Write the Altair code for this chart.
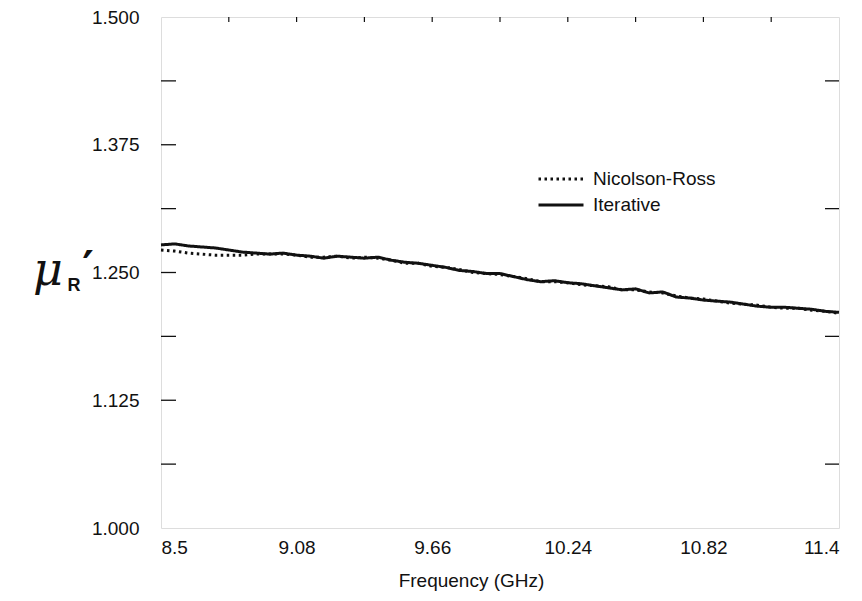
import altair as alt
import pandas as pd

freq = [8.500, 8.558, 8.616, 8.674, 8.732, 8.790, 8.848, 8.906, 8.964, 9.022,
        9.080, 9.138, 9.196, 9.254, 9.312, 9.370, 9.428, 9.486, 9.544, 9.602,
        9.660, 9.718, 9.776, 9.834, 9.892, 9.950, 10.008, 10.066, 10.124, 10.182,
        10.240, 10.298, 10.356, 10.414, 10.472, 10.530, 10.588, 10.646, 10.704, 10.762,
        10.820, 10.878, 10.936, 10.994, 11.052, 11.110, 11.168, 11.226, 11.284, 11.342,
        11.400]

iterative = [1.277, 1.278, 1.276, 1.275, 1.274, 1.272, 1.270, 1.269, 1.268, 1.269,
             1.267, 1.266, 1.264, 1.266, 1.265, 1.264, 1.265, 1.262, 1.260, 1.259,
             1.257, 1.255, 1.252, 1.251, 1.249, 1.249, 1.246, 1.243, 1.241, 1.242,
             1.240, 1.239, 1.237, 1.235, 1.233, 1.234, 1.230, 1.231, 1.226, 1.225,
             1.223, 1.222, 1.221, 1.219, 1.217, 1.216, 1.216, 1.215, 1.214, 1.212,
             1.211]

nicolson_ross = [1.272, 1.271, 1.269, 1.268, 1.267, 1.267, 1.267, 1.268, 1.268, 1.268,
                 1.267, 1.265, 1.265, 1.266, 1.264, 1.265, 1.264, 1.262, 1.259, 1.259,
                 1.256, 1.255, 1.253, 1.250, 1.249, 1.248, 1.246, 1.244, 1.241, 1.241,
                 1.240, 1.238, 1.237, 1.236, 1.233, 1.233, 1.231, 1.230, 1.227, 1.225,
                 1.224, 1.222, 1.220, 1.219, 1.218, 1.216, 1.215, 1.215, 1.213, 1.212,
                 1.210]

series_names = ["Nicolson-Ross", "Iterative"]
x_ticks = [8.5, 9.08, 9.66, 10.24, 10.82, 11.4]
x_minor = [8.79, 9.37, 9.95, 10.53, 11.11]
y_ticks = [1.0, 1.125, 1.25, 1.375, 1.5]
y_left_ticks = [1.0625, 1.125, 1.1875, 1.25, 1.3125, 1.375, 1.4375]
y_right_ticks = [1.0625, 1.1875, 1.3125, 1.4375]

W, H = 678, 511
FONT = "Liberation Sans"

rows = []
for f, v in zip(freq, nicolson_ross):
    rows.append({"freq": f, "mu": v, "series": series_names[0]})
for f, v in zip(freq, iterative):
    rows.append({"freq": f, "mu": v, "series": series_names[1]})
df = pd.DataFrame(rows)

xscale = alt.Scale(domain=[8.5, 11.4], nice=False, zero=False)
yscale = alt.Scale(domain=[1.0, 1.5], nice=False, zero=False)

lines = alt.Chart(df).mark_line(color="#111", strokeWidth=3, strokeCap="butt").encode(
    x=alt.X("freq:Q", scale=xscale,
            axis=alt.Axis(values=x_ticks, format=".4~g", title="Frequency (GHz)",
                          grid=False, domain=False, ticks=False, labelPadding=10,
                          labelFont=FONT, labelFontSize=19, labelColor="#111",
                          labelOverlap=False,
                          titleFont=FONT, titleFontSize=19, titleFontWeight="normal",
                          titleColor="#111", titleX=310, titleY=58,
                          titleBaseline="alphabetic")),
    y=alt.Y("mu:Q", scale=yscale,
            axis=alt.Axis(values=y_ticks, format=".3f", title=None, grid=False,
                          domain=False, ticks=False, labelPadding=22,
                          labelFont=FONT, labelFontSize=19, labelColor="#111")),
    strokeDash=alt.StrokeDash(
        "series:N",
        scale=alt.Scale(domain=series_names, range=[[2.5, 3.5], [1, 0]]),
        legend=alt.Legend(title=None, orient="none", legendX=386, legendY=148,
                          symbolType="M-1.8,0H1.8", symbolSize=625, symbolStrokeWidth=3,
                          symbolStrokeColor="#111", symbolFillColor="transparent",
                          labelFont=FONT, labelFontSize=19,
                          labelColor="#111", rowPadding=2, labelOffset=18),
    ),
    order=alt.Order("series:N", sort="ascending"),
)

left_ticks = alt.Chart(pd.DataFrame({"v": y_left_ticks})).mark_rule(
    color="#111", strokeWidth=1.3).encode(
    y=alt.Y("v:Q", scale=yscale), x=alt.value(0), x2=alt.value(15))

right_ticks = alt.Chart(pd.DataFrame({"v": y_right_ticks})).mark_rule(
    color="#111", strokeWidth=1.3).encode(
    y=alt.Y("v:Q", scale=yscale), x=alt.value(W - 14), x2=alt.value(W))

top_ticks = alt.Chart(pd.DataFrame({"f": x_minor + x_ticks[1:-1]})).mark_rule(
    color="#111", strokeWidth=1.2).encode(
    x=alt.X("f:Q", scale=xscale), y=alt.value(0), y2=alt.value(5))

mu = alt.Chart(pd.DataFrame({"t": ["μ"]})).mark_text(
    font="DejaVu Serif", fontSize=46, fontStyle="italic", color="#111",
    align="center", baseline="alphabetic").encode(
    text="t:N", x=alt.value(-113), y=alt.value(268))
sub_r = alt.Chart(pd.DataFrame({"t": ["R"]})).mark_text(
    font=FONT, fontSize=18, fontWeight="bold", color="#111", align="center",
    baseline="alphabetic").encode(text="t:N", x=alt.value(-87), y=alt.value(274))
prime = alt.Chart(pd.DataFrame({"t": ["′"]})).mark_text(
    font="DejaVu Sans", fontSize=44, fontWeight="bold", color="#111", align="center",
    baseline="alphabetic").encode(text="t:N", x=alt.value(-73), y=alt.value(266))

chart = alt.layer(lines, left_ticks, right_ticks, top_ticks, mu, sub_r, prime).properties(
    width=W, height=H,
    autosize=alt.AutoSizeParams(type="none"),
    padding={"left": 161, "top": 17, "right": 23, "bottom": 73},
).configure_view(stroke="#111", strokeWidth=2).configure(background="white")

chart.save("out.html", embed_options={"renderer": "svg", "actions": False})
